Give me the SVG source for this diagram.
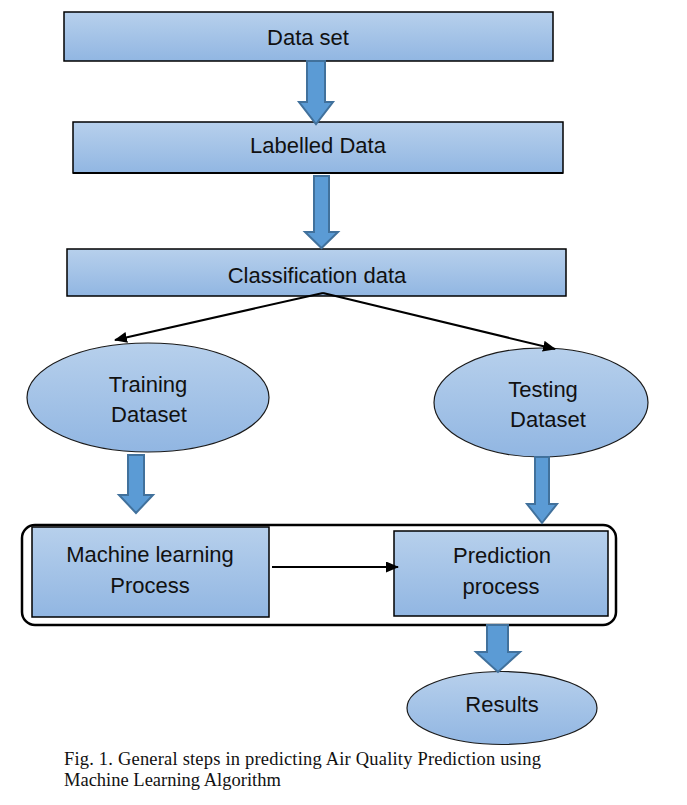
<svg xmlns="http://www.w3.org/2000/svg" width="687" height="805" viewBox="0 0 687 805">
<style>
.box{fill:url(#g);stroke:#000;stroke-width:1.5}
.ell{fill:url(#g);stroke:#1a1a1a;stroke-width:1.2}
.lbl{font-family:"Liberation Sans",Arial,sans-serif;font-size:22px;fill:#111;text-anchor:middle}
.cap{font-family:"Liberation Serif","Times New Roman",serif;font-size:18.5px;fill:#111}
.blk{fill:#5b9bd5;stroke:#41719c;stroke-width:2;stroke-linejoin:miter}
.thin{stroke:#000;stroke-width:2;fill:none;marker-end:url(#ah)}
</style>
<defs>
<linearGradient id="g" x1="0" y1="0" x2="0" y2="1">
<stop offset="0" stop-color="#b7d0ec"/>
<stop offset="1" stop-color="#91b6e2"/>
</linearGradient>
<marker id="ah" markerWidth="13" markerHeight="11" refX="12" refY="5.5" orient="auto" markerUnits="userSpaceOnUse">
<path d="M0,0 L13,5.5 L0,11 Z" fill="#000"/>
</marker>
</defs>
<rect width="687" height="805" fill="#fff"/>
<g id="group-box">
<rect x="22" y="525" width="594" height="100" rx="13" fill="none" stroke="#000" stroke-width="2.5"/>
</g>
<g id="node-dataset">
<rect class="box" x="64" y="12" width="489" height="49"/>
<text class="lbl" x="308" y="45">Data set</text>
</g>
<g id="node-labelled">
<rect class="box" x="73" y="122" width="490" height="51"/>
<line x1="73" y1="173" x2="563" y2="173" stroke="#000" stroke-width="2"/>
<text class="lbl" x="318" y="153">Labelled Data</text>
</g>
<g id="node-classification">
<rect class="box" x="67" y="249" width="499" height="47"/>
<text class="lbl" x="317" y="283">Classification data</text>
</g>
<g id="node-training">
<ellipse class="ell" cx="148" cy="397.5" rx="121" ry="54.5"/>
<text class="lbl" x="148" y="392">Training</text>
<text class="lbl" x="149" y="422">Dataset</text>
</g>
<g id="node-testing">
<ellipse class="ell" cx="541" cy="402.5" rx="107" ry="54.5"/>
<text class="lbl" x="543" y="397">Testing</text>
<text class="lbl" x="548" y="427">Dataset</text>
</g>
<g id="node-ml">
<rect class="box" x="32" y="527" width="237" height="90"/>
<text class="lbl" x="150" y="562">Machine learning</text>
<text class="lbl" x="150" y="593">Process</text>
</g>
<g id="node-prediction">
<rect class="box" x="394" y="531" width="214" height="85"/>
<text class="lbl" x="502" y="563">Prediction</text>
<text class="lbl" x="501" y="594">process</text>
</g>
<g id="node-results">
<ellipse class="ell" cx="502" cy="708" rx="95" ry="36.5"/>
<text class="lbl" x="502" y="712">Results</text>
</g>
<g id="connectors">
<polygon class="blk" points="307,61 325,61 325,102 333,102 316,124 299,102 307,102"/>
<polygon class="blk" points="314,176 329,176 329,232 338,232 321.5,248 305,232 314,232"/>
<polygon class="blk" points="128,455 144,455 144,495 153,495 136,513 119,495 128,495"/>
<polygon class="blk" points="535,457 549,457 549,504 557,504 542,523 527,504 535,504"/>
<polygon class="blk" points="487,625 508,625 508,652 520,652 498,672 476,652 487,652"/>
<line class="thin" x1="323" y1="293" x2="115" y2="340"/>
<line class="thin" x1="323" y1="293" x2="555" y2="349"/>
<line class="thin" x1="272" y1="567" x2="398" y2="567"/>
</g>
<g id="caption">
<text class="cap" x="64" y="765" textLength="477" lengthAdjust="spacing">Fig. 1. General steps in predicting Air Quality Prediction using</text>
<text class="cap" x="64" y="786">Machine Learning Algorithm</text>
</g>
</svg>
